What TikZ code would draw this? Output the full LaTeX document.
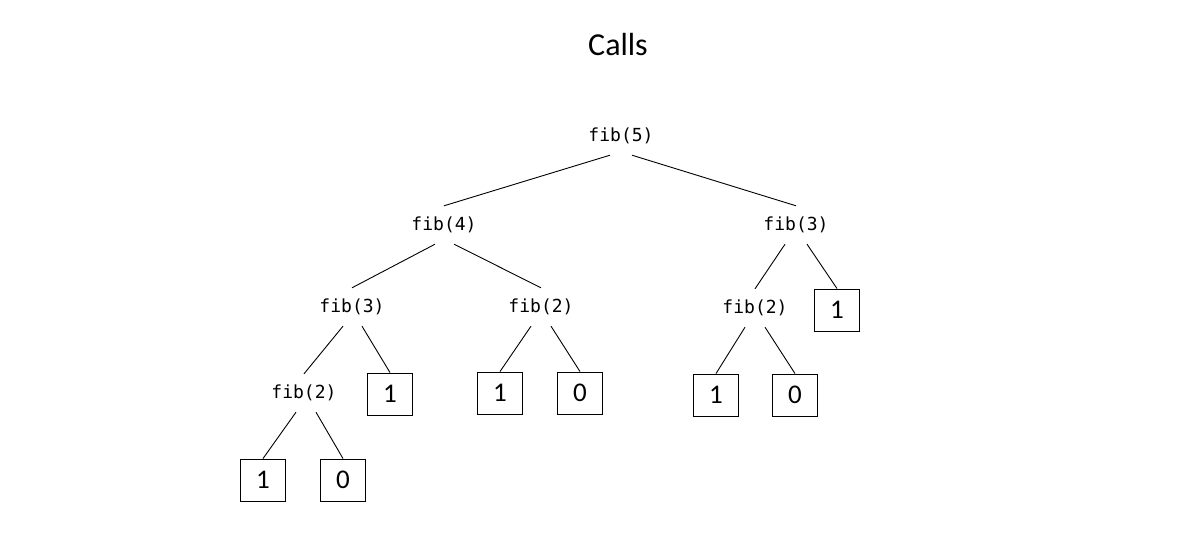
\documentclass[tikz,border=0pt]{standalone}
\usepackage{fontspec}
\setmainfont{Carlito}
\newfontfamily\codefont{DejaVu Sans Mono}
\begin{document}
\begin{tikzpicture}[x=1pt,y=-1pt,
  call/.style={font=\codefont\fontsize{18}{21}\selectfont, inner sep=0pt, minimum height=38pt},
  leaf/.style={draw, line width=0.9pt, minimum width=45pt, minimum height=42pt, inner sep=0pt, font=\fontsize{27}{30}\selectfont},
  edge/.style={line width=0.9pt}]
\useasboundingbox (0,0) rectangle (1200,540);
\node[font=\fontsize{32}{36}\selectfont] (title) at (618,45) {Calls};
\node[call] (f5) at (621,136) {fib(5)};
\node[call] (f4) at (444,225) {fib(4)};
\node[call] (f3r) at (796,225) {fib(3)};
\node[call] (f3l) at (352,307) {fib(3)};
\node[call] (f2m) at (541,307) {fib(2)};
\node[call] (f2r) at (755,308) {fib(2)};
\node[leaf] (l3r) at (837,310) {1};
\node[call] (f2l) at (304,393) {fib(2)};
\node[leaf] (l3l) at (390,394) {1};
\node[leaf] (l2m1) at (500,393) {1};
\node[leaf] (l2m0) at (580,393) {0};
\node[leaf] (l2r1) at (716,395) {1};
\node[leaf] (l2r0) at (795,395) {0};
\node[leaf] (l2l1) at (263,480) {1};
\node[leaf] (l2l0) at (343,480) {0};
\draw[edge] ([xshift=-11pt]f5.south) -- (f4.north);
\draw[edge] ([xshift=11pt]f5.south) -- (f3r.north);
\draw[edge] ([xshift=-9pt]f4.south) -- (f3l.north);
\draw[edge] ([xshift=10pt]f4.south) -- (f2m.north);
\draw[edge] ([xshift=-11pt]f3r.south) -- (f2r.north);
\draw[edge] ([xshift=11pt]f3r.south) -- (l3r.north);
\draw[edge] ([xshift=-9pt]f3l.south) -- (f2l.north);
\draw[edge] ([xshift=10pt]f3l.south) -- (l3l.north);
\draw[edge] ([xshift=-10pt]f2m.south) -- (l2m1.north);
\draw[edge] ([xshift=10pt]f2m.south) -- (l2m0.north);
\draw[edge] ([xshift=-10pt]f2r.south) -- (l2r1.north);
\draw[edge] ([xshift=10pt]f2r.south) -- (l2r0.north);
\draw[edge] ([xshift=-8pt]f2l.south) -- (l2l1.north);
\draw[edge] ([xshift=12pt]f2l.south) -- (l2l0.north);
\end{tikzpicture}
\end{document}
